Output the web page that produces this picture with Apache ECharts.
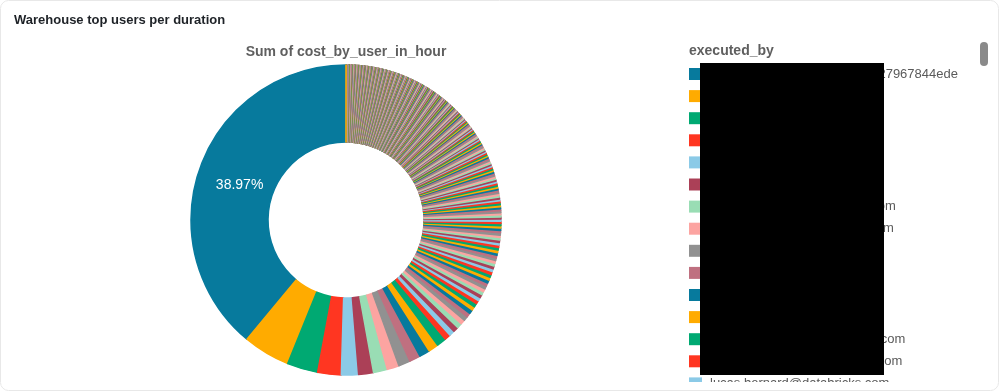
<!DOCTYPE html>
<html>
<head>
<meta charset="utf-8">
<script src="https://cdn.jsdelivr.net/npm/echarts@6/dist/echarts.min.js"></script>
<style>
html,body{margin:0;padding:0;background:#fff;}
#chart{width:999px;height:391px;}
</style>
</head>
<body>
<div id="chart"></div>
<script>
const palette = ['#077A9D','#FFAB00','#00A972','#FF3621','#8BCAE7','#AB4057','#99DDB4','#FCA4A1','#919191','#BF7080'];

const legendNames = [
  '0b3d5a71-2c4e-4a8b-9d6b-a27967844ede',
  'etl-service@databricks.com',
  'anna.lee@databricks.com',
  'jobs-runner@databricks.com',
  'james.turner@databricks.com',
  'tom.baker@databricks.com',
  'maria.kowalski@databricks.com',
  'daniel.schmidt@databricks.com',
  'li.wei@databricks.com',
  'ravi.patel@databricks.com',
  'bi-reports@databricks.com',
  'omar.hadi@databricks.com',
  'alexander.novak@databricks.com',
  'sophie.martinez@databricks.com',
  'lucas.bernard@databricks.com'
];

// share of cost (percent), sorted descending
const topUsers = [38.97, 4.90, 3.20, 2.45, 1.78, 1.55, 1.45, 1.25, 1.22, 1.15, 1.10, 1.04, 1.00];
const midUsers = [0.62, 0.58, 0.55, 0.52, 0.49, 0.46, 0.44, 0.42, 0.40, 0.38, 0.37, 0.36];
const lowUsers = [
  0.35,0.34,0.34,0.33,0.33,0.32,0.32,0.31,0.31,0.30,
  0.30,0.29,0.29,0.28,0.28,0.28,0.27,0.27,0.26,0.26,
  0.26,0.25,0.25,0.25,0.24,0.24,0.24,0.23,0.23,0.22
];
const smallUsers = [
  0.22,0.22,0.21,0.21,0.21,0.21,0.20,0.20,0.20,0.20,
  0.20,0.19,0.19,0.19,0.19,0.19,0.18,0.18,0.18,0.18,
  0.18,0.18,0.17,0.17,0.17,0.17,0.17,0.17,0.16,0.16,
  0.16,0.16,0.16,0.16,0.16,0.16,0.15,0.15,0.15,0.15,
  0.15,0.15,0.15,0.15
];
const minorUsers = [
  0.145,0.14,0.14,0.14,0.135,0.135,0.13,0.13,0.13,0.13,
  0.125,0.125,0.125,0.125,0.12,0.12,0.12,0.12,0.12,0.12,
  0.12,0.12,0.115,0.115,0.115,0.115,0.11,0.11,0.11,0.11,
  0.11,0.11,0.11,0.105,0.105,0.105,0.105,0.10,0.10,0.10,
  0.10,0.10,0.10,0.10,0.095,0.095,0.095,0.09,0.09,0.09,
  0.09,0.09,0.09,0.085,0.085,0.085,0.085,0.08,0.08,0.08,
  0.08,0.08,0.08,0.078,0.078,0.078,0.075,0.075,0.075,0.075,
  0.075,0.073,0.073,0.073,0.072,0.072,0.072,0.07,0.07,0.07
];
const tinyUsers = [
  0.070,0.070,0.069,0.069,0.068,0.068,0.067,0.067,0.066,0.066,
  0.065,0.065,0.064,0.064,0.063,0.063,0.062,0.062,0.061,0.061,
  0.060,0.060,0.059,0.059,0.058,0.058,0.057,0.057,0.056,0.056,
  0.056,0.056,0.055,0.055,0.054,0.054,0.054,0.054,0.053,0.053,
  0.053,0.053,0.052,0.052,0.052,0.052,0.051,0.051,0.051,0.051,
  0.050,0.050,0.050,0.050,0.049,0.049,0.049,0.049,0.048,0.048,
  0.048,0.048,0.047,0.047,0.047,0.047,0.046,0.046,0.046,0.046,
  0.045,0.045,0.045,0.045,0.044,0.044,0.044,0.044,0.043,0.043,
  0.043,0.043,0.042,0.042,0.042,0.042,0.041,0.041,0.041,0.041
];
const tailUsers = [
  0.040,0.040,0.040,0.040,0.040,0.040,0.040,0.040,0.040,0.040,
  0.040,0.040,0.040,0.040,0.040,0.039,0.039,0.039,0.039,0.039,
  0.039,0.039,0.039,0.039,0.039,0.038,0.038,0.038,0.038,0.038,
  0.038,0.038,0.038,0.038,0.038,0.037,0.037,0.037,0.037,0.037,
  0.037,0.037,0.037,0.037,0.037,0.036,0.036,0.036,0.036,0.036,
  0.036,0.036,0.036,0.036,0.036,0.035,0.035,0.035,0.035,0.035,
  0.035,0.035,0.035,0.035,0.035,0.034,0.034,0.034,0.034,0.034,
  0.034,0.034,0.034,0.034,0.034,0.033,0.033,0.033,0.033,0.033,
  0.033,0.033,0.033,0.033,0.033,0.032,0.032,0.032,0.032,0.032,
  0.032,0.032,0.032,0.032,0.032,0.031,0.031,0.031,0.031,0.031,
  0.031,0.031,0.031,0.031,0.031,0.030,0.030,0.030,0.030,0.030,
  0.030,0.030,0.030,0.030,0.029,0.029,0.029,0.029,0.028,0.028,
  0.028,0.028,0.016
];

const values = [].concat(topUsers, midUsers, lowUsers, smallUsers, minorUsers, tinyUsers, tailUsers);
const data = values.map((v, i) => ({
  value: v,
  name: i < legendNames.length ? legendNames[i] : 'user_' + (i + 1),
  itemStyle: {
    color: palette[i % palette.length],
    borderColor: palette[i % palette.length],
    borderWidth: 1.5,
    borderJoin: 'round'
  }
}));
data[0].label = {
  show: true, position: 'inside', formatter: '{d}%',
  color: '#ffffff', fontSize: 14, fontFamily: 'Liberation Sans'
};

const chart = echarts.init(document.getElementById('chart'), null, {renderer: 'canvas'});
chart.setOption({
  animation: false,
  color: palette,
  legend: {
    orient: 'vertical',
    left: 689,
    top: 67,
    height: 340,
    padding: 0,
    itemWidth: 13,
    itemHeight: 12,
    itemGap: 8.1,
    icon: 'rect',
    selectedMode: false,
    data: legendNames,
    itemStyle: {borderWidth: 0},
    textStyle: {
      fontSize: 13, fontFamily: 'Liberation Sans', color: '#5a5a5a',
      lineHeight: 14, padding: [0, 0, 0, 3]
    }
  },
  series: [{
    type: 'pie',
    center: [346, 220],
    radius: [78, 155],
    startAngle: 90,
    clockwise: false,
    padAngle: 0,
    avoidLabelOverlap: false,
    silent: true,
    label: {show: false},
    labelLine: {show: false},
    labelLayout: {dx: 6, dy: 6},
    emphasis: {disabled: true},
    data: data
  }],
  graphic: [
    {type: 'rect', shape: {x: 0.5, y: 0.5, width: 998, height: 390, r: 8},
     style: {fill: 'none', stroke: '#e8e8e8', lineWidth: 1}},
    {type: 'text', x: 14, y: 20,
     style: {text: 'Warehouse top users per duration', font: 'bold 13px "Liberation Sans"', fill: '#1e2227', verticalAlign: 'middle'}},
    {type: 'text', x: 346, y: 52,
     style: {text: 'Sum of cost_by_user_in_hour', font: 'bold 14px "Liberation Sans"', fill: '#5f5f5f', align: 'center', verticalAlign: 'middle'}},
    {type: 'text', x: 689, y: 51,
     style: {text: 'executed_by', font: 'bold 14px "Liberation Sans"', fill: '#5f5f5f', verticalAlign: 'middle'}},
    {type: 'rect', z: 100, shape: {x: 700, y: 63, width: 184, height: 312},
     style: {fill: '#000000'}},
    {type: 'rect', z: 100, shape: {x: 680, y: 382, width: 290, height: 8},
     style: {fill: '#ffffff'}},
    {type: 'rect', shape: {x: 980, y: 42, width: 8, height: 24, r: 4},
     style: {fill: '#8a8a8a'}}
  ]
});
</script>
</body>
</html>
